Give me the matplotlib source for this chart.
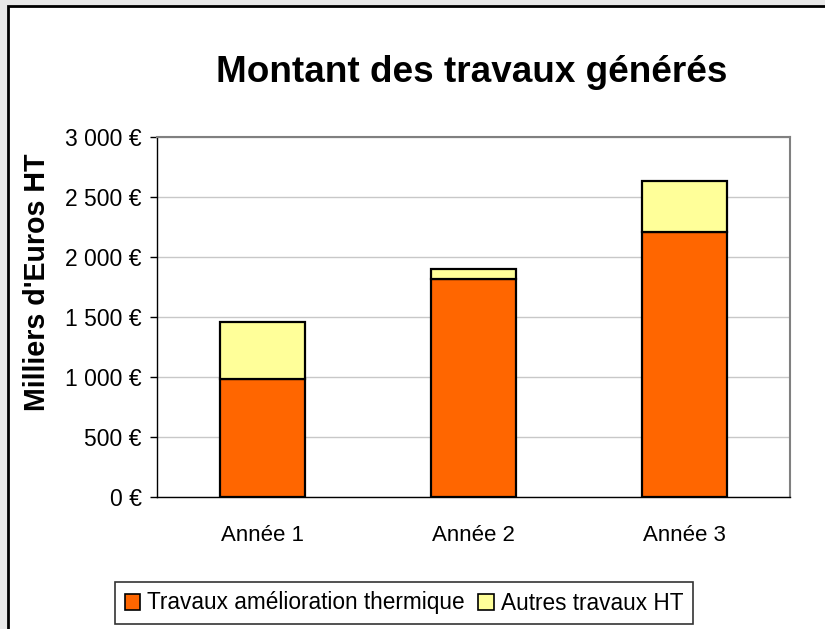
import matplotlib.pyplot as plt
from matplotlib.patches import Rectangle, Patch
from matplotlib.ticker import FuncFormatter

plt.rcParams['font.family'] = ['Liberation Sans', 'DejaVu Sans']

categories = ["Année 1", "Année 2", "Année 3"]
thermique = [980, 1820, 2210]
autres = [478, 84, 426]
labels = ["Travaux amélioration thermique", "Autres travaux HT"]
colors = ["#ff6600", "#ffff99"]

fig = plt.figure(figsize=(8.25, 6.29), dpi=100, facecolor="#e8e8e8")

# white chart area with black frame (screenshot of a spreadsheet chart)
fig.patches.append(Rectangle((8 / 825, -0.1), 1.2, 1 - 6 / 629 + 0.1,
                             transform=fig.transFigure, facecolor="white",
                             edgecolor="black", linewidth=2, zorder=-10))

ax = fig.add_axes([157 / 825, 1 - 497 / 629, 633 / 825, 360 / 629])
ax.set_zorder(2)
x = range(len(categories))
ax.bar(x, thermique, width=0.4, color=colors[0], edgecolor="black",
       linewidth=1.6, zorder=3)
ax.bar(x, autres, width=0.4, bottom=thermique, color=colors[1],
       edgecolor="black", linewidth=1.6, zorder=3)

ax.set_xlim(-0.5, 2.5)
ax.set_ylim(0, 3000)
ax.set_yticks(range(0, 3001, 500))
ax.yaxis.set_major_formatter(
    FuncFormatter(lambda v, p: "{:,} €".format(int(v)).replace(",", " ")))
ax.set_xticks(list(x))
ax.set_xticklabels(categories)
ax.tick_params(axis="y", labelsize=16.5, length=5, width=1, pad=6)
ax.tick_params(axis="x", labelsize=16, length=0, pad=20)
ax.grid(axis="y", color="#c8c8c8", linewidth=1, zorder=0)

for side in ["top", "right"]:
    ax.spines[side].set_color("#808080")
    ax.spines[side].set_linewidth(1.5)
for side in ["left", "bottom"]:
    ax.spines[side].set_color("black")
    ax.spines[side].set_linewidth(1)

fig.text(472 / 825, 1 - 72 / 629, "Montant des travaux générés",
         fontsize=26.6, fontweight="bold", ha="center", va="center")
fig.text(37 / 825, 1 - 282 / 629, "Milliers d'Euros HT", fontsize=20.6,
         fontweight="bold", rotation=90, ha="center", va="center")

handles = [Patch(facecolor=c, edgecolor="black", linewidth=1.2) for c in colors]
leg = fig.legend(handles, labels, loc="center", ncol=2,
                 bbox_to_anchor=(404 / 825, 1 - 603 / 629), fontsize=16.3,
                 frameon=True, fancybox=False, edgecolor="black",
                 handlelength=0.7, handleheight=0.7, handletextpad=0.3,
                 columnspacing=0.6, borderpad=0.4)
leg.get_frame().set_linewidth(1.2)

fig.savefig("out.png", dpi=100, facecolor=fig.get_facecolor())
